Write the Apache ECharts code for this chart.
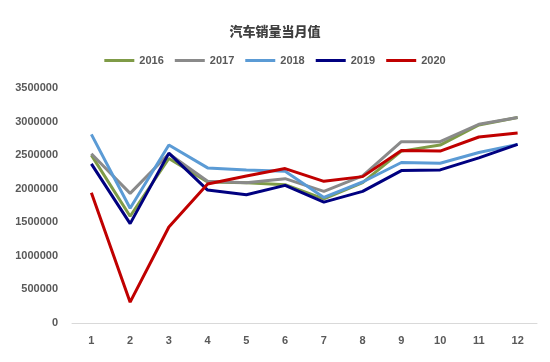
<!DOCTYPE html>
<html><head><meta charset="utf-8">
<script src="https://cdn.jsdelivr.net/npm/echarts@6/dist/echarts.min.js"></script>
<style>html,body{margin:0;padding:0;background:#fff}#c{width:550px;height:362px}</style>
</head><body><div id="c"></div>
<script>
const categories = ['1','2','3','4','5','6','7','8','9','10','11','12'];
const seriesNames = ['2016','2017','2018','2019','2020'];
const s2016 = [2500000,1590000,2450000,2100000,2090000,2060000,1850000,2090000,2560000,2650000,2950000,3060000];
const s2017 = [2520000,1930000,2520000,2110000,2090000,2150000,1960000,2190000,2700000,2700000,2960000,3060000];
const s2018 = [2810000,1710000,2650000,2310000,2280000,2260000,1870000,2100000,2390000,2380000,2540000,2660000];
const s2019 = [2370000,1480000,2530000,1980000,1910000,2050000,1800000,1960000,2270000,2280000,2460000,2660000];
const s2020 = [1940000,310000,1430000,2070000,2190000,2300000,2110000,2180000,2570000,2560000,2770000,2830000];
const yTicks = [0,500000,1000000,1500000,2000000,2500000,3000000,3500000];
const colors = ['#7f9b47','#8a8a8a','#5b9bd5','#000080','#c00000'];
const data = [s2016,s2017,s2018,s2019,s2020];
const chart = echarts.init(document.getElementById('c'));
chart.setOption({
  animation:false,
  title:{text:'汽车销量当月值',left:'center',top:20,textStyle:{fontSize:13,fontWeight:900,color:'#404040',fontFamily:'Noto Sans CJK SC'}},
  legend:{top:50,left:'center',itemWidth:30,itemHeight:3,itemGap:11,icon:'rect',
    textStyle:{fontSize:11,fontWeight:'bold',color:'#595959',fontFamily:'Liberation Sans'},data:seriesNames},
  grid:{left:72,right:13,top:88,bottom:39},
  xAxis:{type:'category',data:categories,boundaryGap:true,
    axisLine:{lineStyle:{color:'#d9d9d9',width:1}},axisTick:{show:false},
    axisLabel:{color:'#595959',fontWeight:'bold',fontSize:11,margin:12,fontFamily:'Liberation Sans'}},
  yAxis:{type:'value',min:yTicks[0],max:yTicks[yTicks.length-1],interval:500000,
    splitLine:{show:false},axisLine:{show:false},axisTick:{show:false},
    axisLabel:{color:'#595959',fontWeight:'bold',fontSize:11,margin:14,fontFamily:'Liberation Sans',
      formatter:v=>String(v)}},
  series:seriesNames.map((n,i)=>({name:n,type:'line',data:data[i],symbol:'none',
    lineStyle:{width:3,color:colors[i]},itemStyle:{color:colors[i]}}))
});
</script></body></html>
